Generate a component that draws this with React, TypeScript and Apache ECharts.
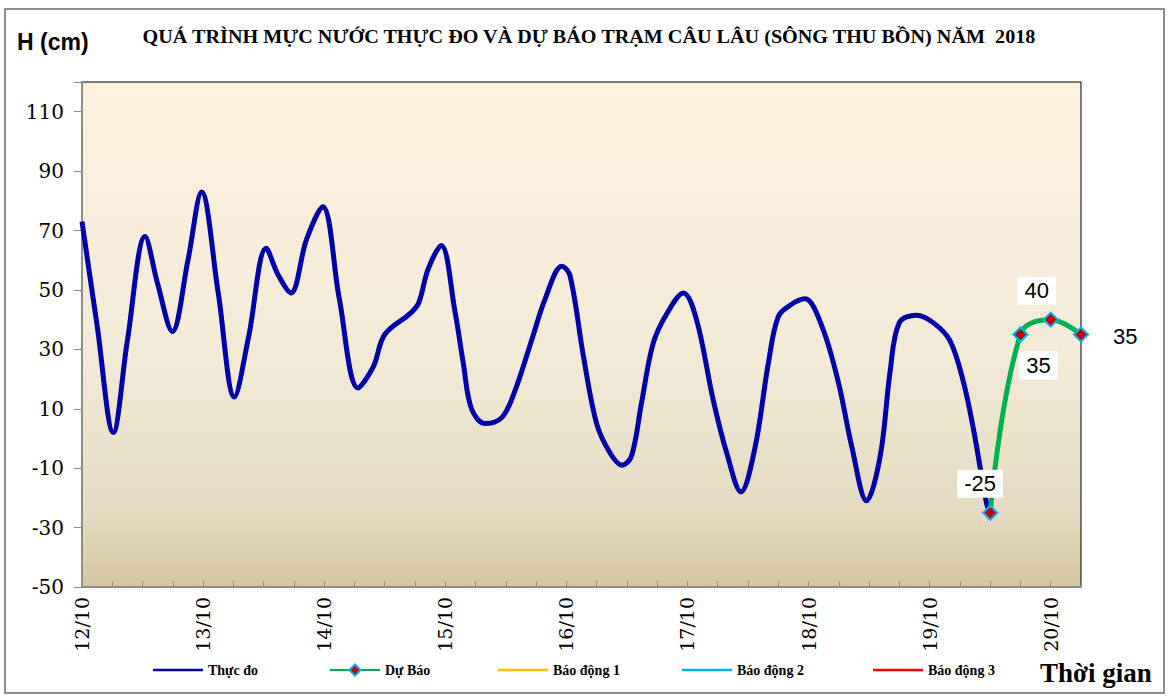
import React, { useEffect, useRef } from "react";
import * as echarts from "echarts";

const dayLabels = ["12/10", "13/10", "14/10", "15/10", "16/10", "17/10", "18/10", "19/10", "20/10"];

// hours since 12/10 00h, observed water level (cm)
const obsHours = [
  0, 3, 6.2, 9, 12.5, 15, 17.9, 21, 23.7, 27, 30.2, 33, 36.5, 38.9, 41.4, 44.5, 47.7, 51, 54.7, 57.7,
  60, 65, 66.7, 68.6, 71.2, 73.9, 75.6, 77.2, 79.9, 83.2, 85.8, 89.1, 91.8, 95.1, 96.7, 99.4, 102,
  104.7, 107, 108.9, 110.9, 113.2, 115.9, 119.2, 121.8, 125.1, 127.8, 130.6, 133.4, 136, 138, 140.5,
  143.3, 146.6, 149.9, 152.6, 155.5, 158.2, 160.2, 162, 165.4, 168.7, 172, 174.7, 176.7, 179.3, 180,
];
const obsLevels = [
  73, 38, 2, 33, 68, 52, 36, 60, 83, 49, 14, 34, 64, 55, 49, 67, 78, 47, 17, 24,
  35, 42, 45.5, 57, 65, 43, 25, 10, 5, 7, 16, 33, 47, 58, 55, 27.5, 5,
  -5, -9, -6, 12, 32, 42, 49, 40, 13, -5, -18, -3, 25, 41, 45,
  47, 38, 19, -3, -21, -6, 23, 39, 41.5, 39, 33, 19, 3, -22, -25,
];

const fcHours = [180, 186, 192, 198];
const fcLevels = [-25, 35, 40, 35];

const seriesNames = ["Thực đo", "Dự Báo", "Báo động 1", "Báo động 2", "Báo động 3"];
const alarmColors = ["#FFC000", "#00B0F0", "#FF0000"];

const labelPos: any[] = [
  { position: "top", offset: [-10, -2] },
  { position: "bottom", offset: [18, 4] },
  { position: "top", offset: [-14, -2] },
  { position: "right", offset: [12, 2] },
];

const legendLefts = [153, 329, 498, 682, 873];
const lineIcon = "path://M0,0 L50,0 L50,2.4 L0,2.4 Z";

export default function App() {
  const ref = useRef<HTMLDivElement>(null);
  useEffect(() => {
    if (!ref.current) return;
    const chart = echarts.init(ref.current, undefined, { renderer: "svg" });
    const serif = "'Liberation Serif', 'Times New Roman', serif";
    const wideSerif = "'DejaVu Serif', serif";
    const sans = "'Liberation Sans', Arial, sans-serif";
    const option: any = {
      animation: false,
      backgroundColor: "#ffffff",
      grid: {
        left: 82,
        right: 92,
        top: 82,
        bottom: 111,
        show: true,
        borderColor: "#000000",
        borderWidth: 1,
        backgroundColor: new echarts.graphic.LinearGradient(0, 0, 0, 1, [
          { offset: 0, color: "#FEF1DE" },
          { offset: 0.55, color: "#F2EAD7" },
          { offset: 0.85, color: "#E5DBC2" },
          { offset: 1, color: "#D5C6A2" },
        ]),
      },
      graphic: [
        {
          type: "rect",
          shape: { x: 5, y: 9, width: 1159, height: 684 },
          style: { fill: "none", stroke: "#8c8c8c", lineWidth: 2 },
          silent: true,
          z: -1,
        },
        {
          type: "text",
          x: 17,
          y: 42,
          style: {
            text: "H (cm)",
            font: `bold 23px ${sans}`,
            fill: "#000",
            textVerticalAlign: "middle",
          },
        },
        {
          type: "text",
          x: 589,
          y: 37,
          scaleX: 1.12,
          style: {
            text: "QUÁ TRÌNH MỰC NƯỚC THỰC ĐO VÀ DỰ BÁO TRẠM CÂU LÂU (SÔNG THU BỒN) NĂM  2018",
            font: `bold 18px ${serif}`,
            fill: "#000",
            textAlign: "center",
            textVerticalAlign: "middle",
          },
        },
        {
          type: "text",
          x: 1040,
          y: 673,
          style: {
            text: "Thời gian",
            font: `bold 27px ${serif}`,
            fill: "#000",
            textVerticalAlign: "middle",
          },
        },
      ],
      legend: seriesNames.map((n, i) => ({
        left: legendLefts[i],
        top: 663,
        padding: 0,
        itemWidth: 50,
        itemHeight: 14,
        itemGap: 6,
        data: [i === 1 ? { name: n } : { name: n, icon: lineIcon }],
        textStyle: { fontFamily: serif, fontWeight: "bold", fontSize: 14, color: "#000" },
      })),
      xAxis: {
        type: "value",
        min: 0,
        max: 198,
        interval: 6,
        axisLine: { show: true, onZero: false, lineStyle: { color: "#8c8c8c", width: 2 } },
        axisTick: { show: true, inside: true, length: 6, lineStyle: { color: "#8c8c8c", width: 1 } },
        splitLine: { show: false },
        axisLabel: {
          rotate: 90,
          margin: 10,
          fontFamily: wideSerif,
          fontSize: 19,
          color: "#000",
          formatter: (v: number) => (v % 24 === 0 && v / 24 < dayLabels.length ? dayLabels[v / 24] : ""),
        },
      },
      yAxis: {
        type: "value",
        min: -50,
        max: 120,
        interval: 20,
        axisLine: { show: true, onZero: false, lineStyle: { color: "#8c8c8c", width: 2 } },
        axisTick: { show: true, inside: false, length: 8, lineStyle: { color: "#8c8c8c", width: 1 } },
        splitLine: { show: false },
        axisLabel: {
          margin: 18,
          fontFamily: wideSerif,
          fontSize: 20,
          color: "#000",
          formatter: (v: number) => (v >= 120 ? "" : String(v)),
        },
      },
      series: [
        {
          name: seriesNames[0],
          type: "line",
          smooth: 0.35,
          symbol: "none",
          lineStyle: { color: "#0000A8", width: 5 },
          itemStyle: { color: "#0000A8" },
          data: obsHours.map((h, i) => [h, obsLevels[i]]),
          z: 2,
        },
        {
          name: seriesNames[1],
          type: "line",
          smooth: 0.4,
          symbol: "diamond",
          symbolSize: 14,
          lineStyle: { color: "#00B050", width: 5 },
          itemStyle: { color: "#C00000", borderColor: "#00B0F0", borderWidth: 2 },
          data: fcHours.map((h, i) => ({
            value: [h, fcLevels[i]],
            label: {
              show: true,
              ...labelPos[i],
              formatter: String(fcLevels[i]),
              fontFamily: sans,
              fontSize: 22,
              color: "#000",
              backgroundColor: "#ffffff",
              padding: [3, 7],
            },
          })),
          z: 3,
        },
        ...alarmColors.map((c, i) => ({
          name: seriesNames[2 + i],
          type: "line",
          symbol: "none",
          lineStyle: { color: c, width: 2 },
          itemStyle: { color: c },
          data: [],
        })),
      ],
    };
    chart.setOption(option);
    return () => chart.dispose();
  }, []);
  return (
    <div
      ref={ref}
      style={{ position: "fixed", left: 0, top: 0, width: 1173, height: 698 }}
    />
  );
}
